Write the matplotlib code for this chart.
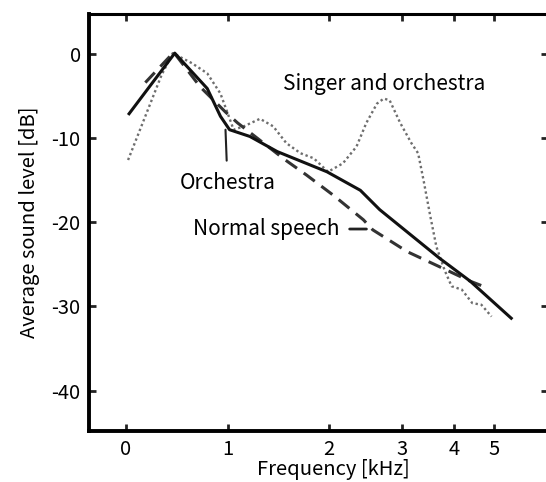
import numpy as np
import matplotlib
matplotlib.use("Agg")
import matplotlib.pyplot as plt

plt.rcParams['font.family'] = ['Noto Sans CJK JP', 'DejaVu Sans']
plt.rcParams['axes.unicode_minus'] = False

# frequency in kHz, level in dB
orch_f = [0.03, 0.48, 0.8, 0.93, 1.02, 1.22, 1.49, 1.98, 2.38, 2.65, 3.7, 4.38, 5.5]
orch_db = [-7.1, 0.1, -4.1, -7.4, -9.0, -9.8, -11.6, -14.0, -16.2, -18.5, -24.3, -27.0, -31.4]

speech_f = [0.19, 0.47, 0.73, 0.98, 1.1, 1.57, 1.78, 2.05, 2.42, 2.55, 3.09, 3.7, 4.38, 4.82]
speech_db = [-3.4, 0.2, -3.9, -6.9, -8.2, -12.6, -14.4, -16.8, -19.7, -20.9, -23.5, -25.3, -27.0, -27.8]

singer_f = [0.02, 0.35, 0.46, 0.65, 0.8, 0.93, 1.0, 1.06, 1.16, 1.32, 1.45, 1.58, 1.72, 1.85,
            1.99, 2.16, 2.33, 2.46, 2.61, 2.71, 2.8, 2.97, 3.16, 3.28, 3.38, 3.51, 3.63,
            3.8, 3.95, 4.18, 4.43, 4.66, 4.93]
singer_db = [-12.6, -2.5, 0.1, -1.1, -2.3, -4.7, -7.0, -9.0, -8.6, -7.7, -8.6, -10.6, -11.8, -12.4,
             -14.0, -13.0, -11.0, -8.2, -5.9, -5.3, -5.5, -8.2, -10.6, -11.8, -15.0, -19.3, -22.9,
             -25.7, -27.6, -28.0, -29.6, -29.8, -31.2]

xticks = [0, 1, 2, 3, 4, 5]
yticks = [0, -10, -20, -30, -40]

K = 1.775  # linear up to 2 kHz, logarithmic above


def fwd(f):
    f = np.asarray(f, dtype=float)
    return np.where(f <= 2, f, 2 + K * np.log(np.maximum(f, 2) / 2))


def inv(p):
    p = np.asarray(p, dtype=float)
    return np.where(p <= 2, p, 2 * np.exp((np.maximum(p, 2) - 2) / K))


fig = plt.figure(figsize=(5.46, 4.82), dpi=100)
ax = fig.add_axes([89 / 546, 51 / 482, 459 / 546, 417 / 482])
ax.set_xscale('function', functions=(fwd, inv))

ax.plot(singer_f, singer_db, color='#6e6e6e', lw=1.7, linestyle=(0, (1, 1.2)))
ax.plot(speech_f, speech_db, color='#333333', lw=2.2, linestyle=(0, (4.5, 2.7)))
ax.plot(orch_f, orch_db, color='#111111', lw=2.2)

ax.set_xlim(-0.365, 6.745)
ax.set_ylim(-44.8, 4.75)
ax.set_xticks(xticks)
ax.set_xticklabels([str(t) for t in xticks])
ax.set_yticks(yticks)
ax.set_yticklabels([str(t) for t in yticks])
ax.minorticks_off()

ax.tick_params(direction='in', length=5, width=2, top=True, right=True,
               labelsize=14.5, pad=6, color='#222222')
for side in ['left', 'bottom']:
    ax.spines[side].set_linewidth(2.8)
ax.spines['top'].set_linewidth(2.2)
ax.spines['right'].set_visible(False)

ax.set_xlabel('Frequency [kHz]', fontsize=14.5)
ax.xaxis.set_label_coords(0.532, -0.067)
ax.set_ylabel('Average sound level [dB]', fontsize=14.5, labelpad=8)

ax.text(1.55, -4.3, 'Singer and orchestra', fontsize=15, ha='left', va='baseline')
ax.annotate('Orchestra', xy=(0.98, -9.0), xytext=(1.0, -15.3), fontsize=15,
            ha='center', va='center',
            arrowprops=dict(arrowstyle='-', lw=1.5, color='#222222', shrinkA=6, shrinkB=0))
ax.annotate('Normal speech', xy=(2.5, -20.8), xytext=(2.125, -20.8), fontsize=15,
            ha='right', va='center',
            arrowprops=dict(arrowstyle='-', lw=2, color='#222222', shrinkA=5, shrinkB=2))

fig.savefig('out.png', dpi=100)
